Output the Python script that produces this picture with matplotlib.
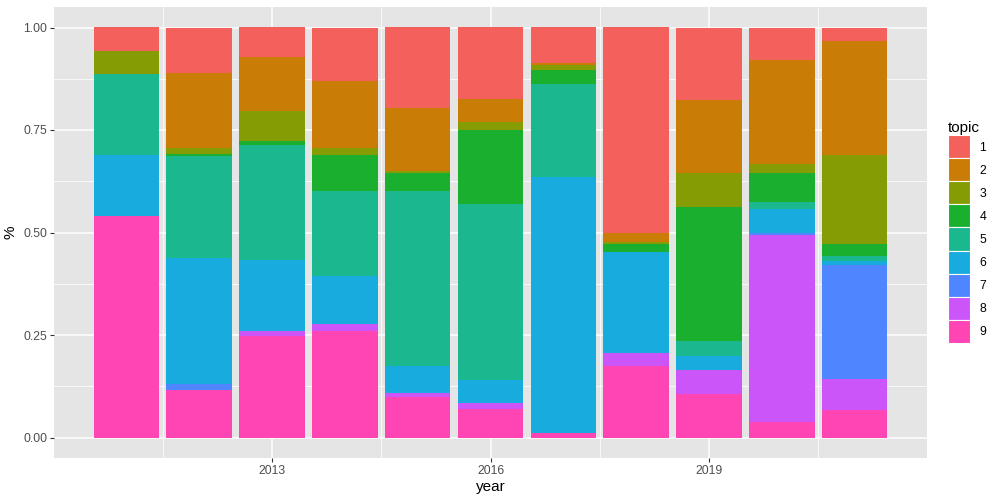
import numpy as np
import matplotlib
matplotlib.use('Agg')
import matplotlib.pyplot as plt
from matplotlib.patches import Patch

plt.rcParams['font.family'] = ['Liberation Sans', 'DejaVu Sans']

years = [2011, 2012, 2013, 2014, 2015, 2016, 2017, 2018, 2019, 2020, 2021]
topics = ['1', '2', '3', '4', '5', '6', '7', '8', '9']
colors = ['#F4615C', '#C97D06', '#869C05', '#1AAF2E', '#1BB78E',
          '#18ABDD', '#4F86FF', '#CC55FA', '#FF44B4']

# share of each topic per year (topic 1 on top, topic 9 at bottom)
t1 = [0.058, 0.111, 0.073, 0.130, 0.196, 0.174, 0.087, 0.501, 0.178, 0.080, 0.033]
t2 = [0.000, 0.182, 0.130, 0.163, 0.154, 0.056, 0.005, 0.023, 0.177, 0.253, 0.278]
t3 = [0.055, 0.017, 0.073, 0.019, 0.005, 0.019, 0.012, 0.005, 0.082, 0.023, 0.218]
t4 = [0.000, 0.003, 0.010, 0.087, 0.044, 0.181, 0.035, 0.018, 0.328, 0.069, 0.029]
t5 = [0.198, 0.250, 0.281, 0.207, 0.427, 0.430, 0.225, 0.000, 0.037, 0.017, 0.012]
t6 = [0.148, 0.308, 0.173, 0.118, 0.066, 0.055, 0.624, 0.248, 0.033, 0.058, 0.010]
t7 = [0.000, 0.015, 0.000, 0.000, 0.000, 0.000, 0.000, 0.000, 0.000, 0.006, 0.278]
t8 = [0.000, 0.000, 0.012, 0.017, 0.009, 0.015, 0.000, 0.031, 0.060, 0.457, 0.074]
t9 = [0.541, 0.115, 0.248, 0.259, 0.099, 0.070, 0.012, 0.174, 0.105, 0.037, 0.068]

shares = np.array([t1, t2, t3, t4, t5, t6, t7, t8, t9])
shares = shares / shares.sum(axis=0)

fig = plt.figure(figsize=(10, 5), dpi=100)
ax = fig.add_axes([0.054, 0.084, 0.873, 0.902])
ax.set_facecolor('#E5E5E5')

bottom = np.zeros(len(years))
for i in range(len(topics) - 1, -1, -1):
    ax.bar(years, shares[i], bottom=bottom, width=0.9, color=colors[i],
           linewidth=0, zorder=3)
    bottom += shares[i]

ax.set_xlim(2010.005, 2021.995)
ax.set_ylim(-0.05, 1.05)
ax.set_xticks([2013, 2016, 2019])
ax.set_xticks([2011.5, 2014.5, 2017.5, 2020.5], minor=True)
ax.set_yticks([0, 0.25, 0.5, 0.75, 1.0])
ax.set_yticklabels(['0.00', '0.25', '0.50', '0.75', '1.00'])
ax.set_yticks([0.125, 0.375, 0.625, 0.875], minor=True)
ax.grid(which='major', color='white', linewidth=1.1, zorder=0)
ax.grid(which='minor', color='white', linewidth=0.55, zorder=0)
ax.tick_params(which='major', length=3, color='#333333', labelcolor='#4D4D4D',
               labelsize=8.8, width=0.8, pad=2)
ax.tick_params(which='minor', length=0)
for s in ax.spines.values():
    s.set_visible(False)

ax.set_xlabel('year', fontsize=11, labelpad=2)
ax.set_ylabel('%', fontsize=11)
ax.yaxis.set_label_coords(-0.042, 0.5)

handles = [Patch(facecolor=c, edgecolor='white', linewidth=0.8) for c in colors]
leg = fig.legend(handles, topics, title='topic', loc='center left',
                 bbox_to_anchor=(0.939, 0.536), frameon=False, fontsize=8.8,
                 title_fontsize=11, handlelength=1.8, handleheight=2.52,
                 handletextpad=0.8, labelspacing=0.0, alignment='left',
                 borderpad=0.2)

fig.savefig('out.png', dpi=100)
